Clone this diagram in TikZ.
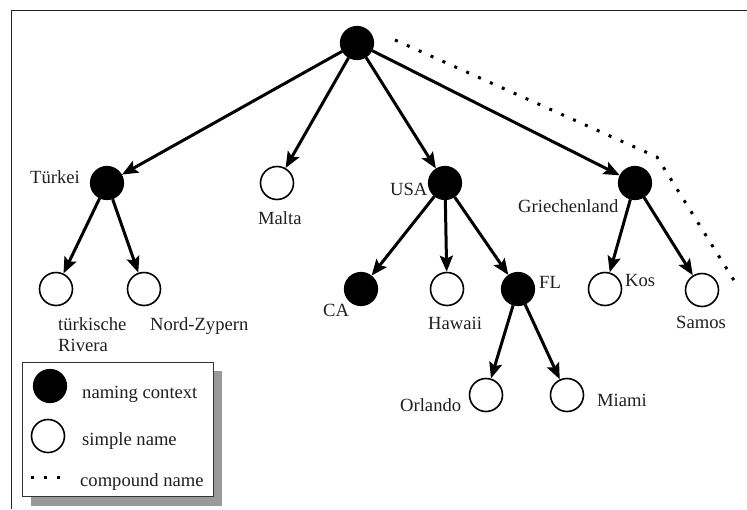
\documentclass[tikz,border=0pt]{standalone}
\usepackage{fontspec}
\setmainfont{Liberation Serif}
\usetikzlibrary{arrows.meta}
\begin{document}
\begin{tikzpicture}[x=1pt,y=-1pt,
  ctx/.style={circle,fill=black,draw=black,line width=1.2pt,minimum size=33pt,inner sep=0pt},
  leaf/.style={circle,fill=white,draw=black,line width=1.6pt,minimum size=33pt,inner sep=0pt},
  lbl/.style={font=\fontsize{18.6}{21}\selectfont,inner sep=0pt,anchor=base west,text=black!88},
  edge/.style={line width=3pt,-{Stealth[length=16pt,width=13pt,inset=3pt]}},
  compound/.style={line width=3pt,dash pattern=on 3pt off 10pt},
  legendbox/.style={draw=black!80,line width=1pt,fill=white},
  shadowbox/.style={fill=black!40,draw=none}
]
\useasboundingbox (0,0) rectangle (747,509);

% page frame
\coordinate (frameBL) at (11,509);
\coordinate (frameTL) at (11,10);
\coordinate (frameTR) at (747,10);
\draw[line width=1pt,black!85] (frameBL) -- (frameTL) -- (frameTR);

% name tree
\node[ctx]  (root) at (357,43) {};
\node[ctx]  (tur)  at (107,183) {};
\node[leaf] (mal)  at (277,183) {};
\node[ctx]  (usa)  at (445,183) {};
\node[ctx]  (gri)  at (635,183) {};
\node[leaf] (riv)  at (56,289) {};
\node[leaf] (nzy)  at (144,289) {};
\node[ctx]  (ca)   at (361,289) {};
\node[leaf] (haw)  at (447,289) {};
\node[ctx]  (fl)   at (518,289) {};
\node[leaf] (kos)  at (605,289) {};
\node[leaf] (sam)  at (702,290) {};
\node[leaf] (orl)  at (486,395) {};
\node[leaf] (mia)  at (567,395) {};

\draw[edge] (root) -- (tur);
\draw[edge] (root) -- (mal);
\draw[edge] (root) -- (usa);
\draw[edge] (root) -- (gri);
\draw[edge] (tur) -- (riv);
\draw[edge] (tur) -- (nzy);
\draw[edge] (usa) -- (ca);
\draw[edge] (usa) -- (haw);
\draw[edge] (usa) -- (fl);
\draw[edge] (fl) -- (orl);
\draw[edge] (fl) -- (mia);
\draw[edge] (gri) -- (kos);
\draw[edge] (gri) -- (sam);

% labels (multi-line nodes sit on the baseline of their last line)
\node[lbl] (lTur) at (30,183)  {Türkei};
\node[lbl] (lMal) at (258,224) {Malta};
\node[lbl,align=left] (lRiv) at (58,351) {türkische\\Rivera};
\node[lbl] (lNzy) at (150,330) {Nord-Zypern};
\node[lbl] (lCa)  at (323,316) {CA};
\node[lbl] (lHaw) at (428,329) {Hawaii};
\node[lbl] (lUsa) at (390,195) {USA};
\node[lbl] (lFl)  at (539,288) {FL};
\node[lbl] (lGri) at (518,212) {Griechenland};
\node[lbl] (lKos) at (625,286) {Kos};
\node[lbl] (lSam) at (676,328) {Samos};
\node[lbl] (lOrl) at (400,411) {Orlando};
\node[lbl] (lMia) at (597,406) {Miami};

% compound name path
\coordinate (cA) at (395,40);
\coordinate (cB) at (657,157);
\coordinate (cC) at (735,282);
\draw[compound] (cA) -- (cB) -- (cC);

% legend
\fill[shadowbox] (31,371) rectangle (222,506);
\draw[legendbox] (22,362) rectangle (213,496);
\node[ctx]  (legCtx)  at (50,386) {};
\node[leaf] (legLeaf) at (48,436) {};
\coordinate (legDotA) at (31,477);
\coordinate (legDotB) at (70,477);
\draw[compound] (legDotA) -- (legDotB);
\node[lbl] (legT1) at (82,398) {naming context};
\node[lbl] (legT2) at (82,445) {simple name};
\node[lbl] (legT3) at (80,486) {compound name};
\end{tikzpicture}
\end{document}
